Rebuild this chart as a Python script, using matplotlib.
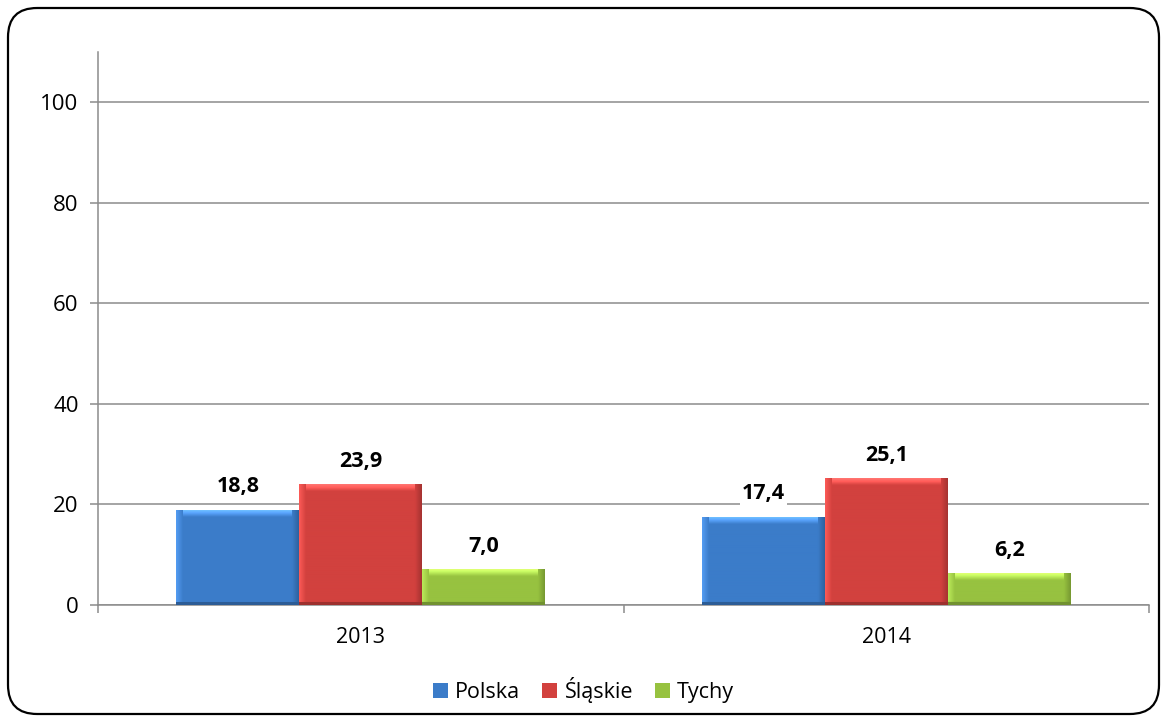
import matplotlib.pyplot as plt
from matplotlib.patches import FancyBboxPatch
from matplotlib.colors import to_rgb
import numpy as np

years = ["2013", "2014"]
series = ["Polska", "Śląskie", "Tychy"]
polska = [18.8, 17.4]
slaskie = [23.9, 25.1]
tychy = [7.0, 6.2]
yticks = [0, 20, 40, 60, 80, 100]

colors = ["#3b7cc9", "#d2413e", "#97c240"]

plt.rcParams["font.family"] = ["Open Sans", "DejaVu Sans"]


def bevel(ax, bar, color):
    """paint a bevelled gradient over a bar"""
    x0, y0 = ax.transData.transform((bar.get_x(), bar.get_y()))
    x1, y1 = ax.transData.transform((bar.get_x() + bar.get_width(),
                                     bar.get_y() + bar.get_height()))
    w = max(int(round(x1 - x0)), 2)
    h = max(int(round(y1 - y0)), 2)
    xx, yy = np.meshgrid(np.arange(w) + 0.5, np.arange(h) + 0.5)
    # yy measured from top
    b = 7.0
    f = np.ones((h, w))
    f = np.where(yy < b, 1.25 - 0.25 * yy / b, f)
    f = np.where(xx < b, np.minimum(f, 1.0) * (1.12 - 0.12 * xx / b), f)
    f = np.where(w - xx < b, 0.78 + 0.22 * (w - xx) / b, f)
    f = np.where(h - yy < 3, 0.75, f)
    rgb = np.clip(np.array(to_rgb(color))[None, None, :] * f[:, :, None]
                  + np.maximum(f - 1, 0)[:, :, None] * 0.6, 0, 1)
    ax.imshow(rgb, extent=(bar.get_x(), bar.get_x() + bar.get_width(),
                           bar.get_y(), bar.get_y() + bar.get_height()),
              aspect="auto", zorder=3, interpolation="bilinear",
              origin="upper")


def main():
    """draw the chart"""
    fig = plt.figure(figsize=(11.67, 7.22), dpi=100)
    frame = FancyBboxPatch((8 / 1167, 8 / 722), 1151 / 1167, 706 / 722,
                           boxstyle="round,pad=0,rounding_size=0.025",
                           transform=fig.transFigure, fill=False,
                           edgecolor="black", linewidth=1.6,
                           mutation_aspect=1167 / 722)
    fig.patches.append(frame)

    ax = fig.add_axes([98 / 1167, 117 / 722, 1051 / 1167, 553 / 722])
    ax.set_xlim(-0.5, 1.5)
    ax.set_ylim(0, 110)
    x = np.arange(len(years))
    width = 0.234
    values = [polska, slaskie, tychy]
    for i, vals in enumerate(values):
        pos = x + (i - 1) * width
        bars = ax.bar(pos, vals, width, color=colors[i], linewidth=0,
                      label=series[i], zorder=3)
        for bar in bars:
            bevel(ax, bar, colors[i])
        for px, v in zip(pos, vals):
            ax.annotate(f"{v:.1f}".replace(".", ","), (px, v),
                        xytext=(0, 17), textcoords="offset points",
                        ha="center", va="center", fontsize=15.5,
                        fontweight="bold", zorder=4,
                        bbox=dict(facecolor="white", edgecolor="none",
                                  pad=1.5))
    ax.set_xlim(-0.5, 1.5)
    ax.set_ylim(0, 110)

    ax.set_yticks(yticks)
    ax.yaxis.grid(True, color="#8c8c8c", linewidth=1.1, zorder=0)
    ax.set_axisbelow(True)
    ax.set_xticks(x)
    ax.set_xticklabels(years)
    ax.set_xticks([-0.5, 0.5, 1.5], minor=True)
    ax.tick_params(axis="x", which="major", length=0, pad=16, labelsize=15.5)
    ax.tick_params(axis="x", which="minor", length=6, color="#8c8c8c",
                   width=1.1)
    ax.tick_params(axis="y", length=6, color="#8c8c8c", width=1.1,
                   labelsize=16, pad=8)
    for side in ["top", "right"]:
        ax.spines[side].set_visible(False)
    for side in ["left", "bottom"]:
        ax.spines[side].set_color("#8c8c8c")
        ax.spines[side].set_linewidth(1.1)

    fig.legend(loc="center", bbox_to_anchor=(0.5, 32 / 722), ncol=3,
               frameon=False, fontsize=15.5, handlelength=0.7,
               handleheight=0.7, handletextpad=0.35, columnspacing=1.0)
    fig.savefig("out.png", dpi=100)


if __name__ == "__main__":
    main()
